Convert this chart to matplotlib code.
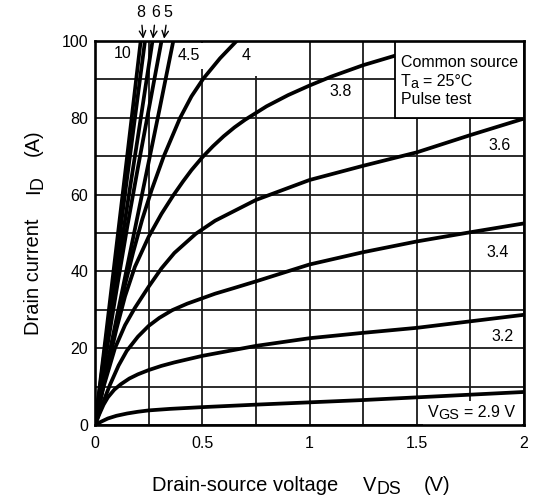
import matplotlib
matplotlib.use("Agg")
import matplotlib.pyplot as plt
from matplotlib.patches import Rectangle
from matplotlib.ticker import MultipleLocator
from matplotlib.transforms import IdentityTransform

plt.rcParams["font.family"] = ["Liberation Sans", "DejaVu Sans"]

# output characteristics: one (V_DS [V], I_D [A]) trace per gate voltage
VDS_10 = [0, 0.05, 0.10, 0.15, 0.213]
ID_10 = [0, 23.0, 46.5, 70.0, 100]

VDS_8 = [0, 0.05, 0.10, 0.15, 0.233]
ID_8 = [0, 21.5, 43.0, 64.5, 100]

VDS_6 = [0, 0.05, 0.10, 0.15, 0.20, 0.268]
ID_6 = [0, 19.5, 38.5, 57.0, 75.0, 100]

VDS_5 = [0, 0.05, 0.10, 0.15, 0.20, 0.25, 0.31]
ID_5 = [0, 18.0, 35.0, 51.5, 67.0, 82.0, 100]

VDS_45 = [0, 0.05, 0.10, 0.15, 0.20, 0.25, 0.30, 0.365]
ID_45 = [0, 14.0, 27.6, 41.2, 54.8, 68.4, 82.0, 100]

VDS_4 = [0, 0.05, 0.10, 0.14, 0.178, 0.22, 0.264, 0.32, 0.396, 0.45, 0.505,
         0.583, 0.66]
ID_4 = [0, 13.5, 26.5, 36.5, 45.0, 53.5, 61.2, 69.9, 79.9, 85.6, 90.2,
        95.5, 100]

VDS_38 = [0, 0.05, 0.10, 0.14, 0.186, 0.25, 0.31, 0.365, 0.41, 0.45, 0.50,
          0.55, 0.60, 0.65, 0.70, 0.80, 0.90, 1.00, 1.10, 1.25, 1.40, 1.50]
ID_38 = [0, 13.0, 25.0, 33.5, 41.2, 49.0, 55.0, 59.8, 63.4, 66.4, 69.7,
         72.6, 75.2, 77.5, 79.5, 83.0, 85.9, 88.4, 90.7, 93.7, 96.2, 97.8]

VDS_36 = [0, 0.02, 0.04, 0.093, 0.14, 0.186, 0.25, 0.31, 0.37, 0.47, 0.56,
          0.75, 1.00, 1.25, 1.50, 1.75, 2.00]
ID_36 = [0, 5.3, 10.0, 20.0, 26.0, 30.5, 36.0, 40.8, 44.8, 49.8, 53.2,
         58.6, 63.8, 67.5, 71.0, 75.5, 79.8]

VDS_34 = [0, 0.035, 0.07, 0.11, 0.148, 0.20, 0.25, 0.30, 0.36, 0.43, 0.50,
          0.56, 0.65, 0.75, 1.00, 1.25, 1.50, 1.75, 2.00]
ID_34 = [0, 5.5, 10.5, 15.5, 19.3, 23.0, 25.8, 27.9, 29.9, 31.6, 33.0,
         34.2, 35.7, 37.4, 41.8, 45.0, 47.8, 50.2, 52.5]

VDS_32 = [0, 0.02, 0.04, 0.06, 0.09, 0.12, 0.16, 0.20, 0.25, 0.31, 0.37,
          0.50, 0.75, 1.00, 1.25, 1.50, 1.75, 2.00]
ID_32 = [0, 2.8, 5.3, 7.2, 9.2, 10.6, 12.1, 13.2, 14.3, 15.4, 16.3,
         18.0, 20.6, 22.6, 24.0, 25.3, 27.0, 28.7]

VDS_29 = [0, 0.03, 0.06, 0.10, 0.15, 0.20, 0.25, 0.35, 0.50, 0.75, 1.00,
          1.25, 1.50, 1.75, 2.00]
ID_29 = [0, 0.9, 1.7, 2.4, 3.0, 3.45, 3.8, 4.2, 4.65, 5.3, 5.9, 6.5,
         7.2, 7.9, 8.6]

CURVES = [(VDS_10, ID_10), (VDS_8, ID_8), (VDS_6, ID_6), (VDS_5, ID_5),
          (VDS_45, ID_45), (VDS_4, ID_4), (VDS_38, ID_38), (VDS_36, ID_36),
          (VDS_34, ID_34), (VDS_32, ID_32), (VDS_29, ID_29)]

W, H = 537, 503
FS = 11.5
fig = plt.figure(figsize=(W / 100, H / 100), dpi=100)
ax = fig.add_axes([95 / W, 78 / H, 429 / W, 384 / H])
R = fig.canvas.get_renderer()
PX = IdentityTransform()


def draw_run(x, y, parts, size, vertical=False):
    """Lay out text pieces along one baseline, starting at pixel (x, y)
    measured from the top-left corner.  A piece is (text, scale, drop_px);
    a bare number is a gap in pixels."""
    y = H - y
    for p in parts:
        if isinstance(p, (int, float)):
            adv = p
        else:
            s, k, drop = p
            if vertical:
                t = fig.text(x + drop, y, s, fontsize=size * k, rotation=90,
                             rotation_mode="anchor", ha="left", va="baseline",
                             transform=PX)
                adv = t.get_window_extent(R).height
            else:
                t = fig.text(x, y - drop, s, fontsize=size * k, ha="left",
                             va="baseline", transform=PX)
                adv = t.get_window_extent(R).width
        if vertical:
            y += adv
        else:
            x += adv


for vds, i_d in CURVES:
    ax.plot(vds, i_d, color="black", lw=2.7, solid_capstyle="round",
            solid_joinstyle="round", zorder=3)

ax.set_xlim(0, 2)
ax.set_ylim(0, 100)
ax.set_xticks([0, 0.5, 1, 1.5, 2])
ax.set_xticklabels(["0", "0.5", "1", "1.5", "2"])
ax.xaxis.set_minor_locator(MultipleLocator(0.25))
ax.set_yticks([0, 20, 40, 60, 80, 100])
ax.yaxis.set_minor_locator(MultipleLocator(10))
ax.grid(which="both", color="#1a1a1a", lw=1.3, zorder=1)
ax.set_axisbelow(True)
ax.tick_params(which="both", length=0, labelsize=FS)
ax.tick_params(axis="x", pad=8)
ax.tick_params(axis="y", pad=5)
for s in ax.spines.values():
    s.set_linewidth(1.9)
    s.set_zorder(6)

# gate-voltage labels (white patch hides the grid, curves stay on top)
lab = dict(ha="center", va="center", fontsize=FS, zorder=2)
ax.text(0.131, 96.7, "10", **lab)
ax.text(0.438, 96.2, "4.5", bbox=dict(facecolor="white", edgecolor="none",
                                       boxstyle="square,pad=0.35"), **lab)
ax.text(0.703, 96.2, "4", bbox=dict(facecolor="white", edgecolor="none",
                                     boxstyle="square,pad=0.8"), **lab)
ax.text(1.145, 86.8, "3.8", **lab)
ax.text(1.888, 72.7, "3.6", **lab)
ax.text(1.879, 45.0, "3.4", **lab)
ax.text(1.900, 23.0, "3.2", **lab)

# blank strip behind the V_GS = 2.9 V label
ax.add_patch(Rectangle((1.53, 0), 0.46, 6.2, facecolor="white",
                       edgecolor="none", zorder=2))
draw_run(428, 417, [("V", 1, 0), ("GS", 0.9, 2), 4, ("= 2.9 V", 1, 0)], FS)

# labels above the frame with arrows down to their traces
for txt, tx, hx in [("8", 0.213, 0.225), ("6", 0.284, 0.270), ("5", 0.340, 0.322)]:
    ax.annotate(txt, xy=(hx, 100.6), xytext=(tx, 107.5), fontsize=FS,
                ha="center", va="center", annotation_clip=False,
                arrowprops=dict(arrowstyle="->", lw=1.0, color="black",
                                shrinkA=2, shrinkB=0))

# conditions box
ax.add_patch(Rectangle((1.4, 80), 0.6, 20, facecolor="white", edgecolor="black",
                       lw=1.3, zorder=4))
draw_run(401, 67, [("Common source", 1, 0)], FS)
draw_run(401, 85.5, [("T", 1, 0), ("a", 0.9, 2.5), 4, ("= 25°C", 1, 0)], FS)
draw_run(401, 103.5, [("Pulse test", 1, 0)], FS)

# axis titles
draw_run(152, 491, [("Drain-source voltage", 1, 0), 25, ("V", 1, 0),
                    ("DS", 0.88, 3.5), 22, ("(V)", 1, 0)], 14.5)
draw_run(39, 335, [("Drain current", 1, 0), 24, ("I", 1, 0),
                   ("D", 0.88, 3.5), 20, ("(A)", 1, 0)], 14.5, vertical=True)

fig.savefig("out.png", dpi=100, facecolor="white")
